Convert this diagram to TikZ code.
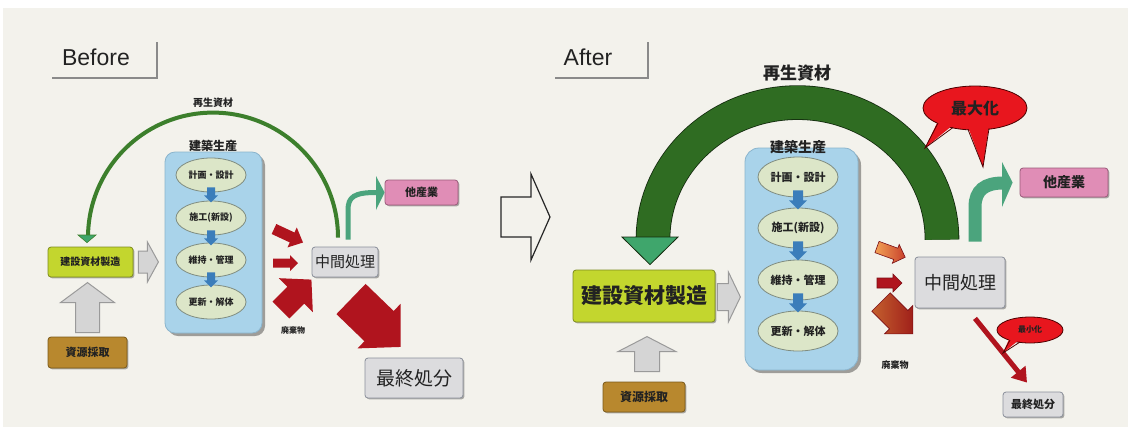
\documentclass[tikz,border=0pt]{standalone}
\usepackage{fontspec}
\setmainfont{Liberation Sans}
\newfontfamily\jp{Noto Sans CJK JP}
\usepackage{tikz}
\usetikzlibrary{calc,shapes.geometric,shadows,arrows.meta}
\definecolor{paper}{HTML}{F3F2EC}
\definecolor{ink}{HTML}{222222}
\definecolor{ygreen}{HTML}{C3D62E}
\definecolor{ygline}{HTML}{7E8C1E}
\definecolor{ochre}{HTML}{B8882E}
\definecolor{ochreline}{HTML}{7A5A1A}
\definecolor{pinkbox}{HTML}{E08DB6}
\definecolor{pinkline}{HTML}{9A5A7A}
\definecolor{graybox}{HTML}{DCDCDE}
\definecolor{grayline}{HTML}{8A8F9A}
\definecolor{bluebox}{HTML}{A9D3EA}
\definecolor{blueline}{HTML}{8AB4CC}
\definecolor{stagefill}{HTML}{DCE6C8}
\definecolor{stageline}{HTML}{7F8C80}
\definecolor{stagearrow}{HTML}{3B7DBA}
\definecolor{arrowgray}{HTML}{D5D5D5}
\definecolor{arrowgrayline}{HTML}{9A9A9A}
\definecolor{darkred}{HTML}{B0141E}
\definecolor{greenL}{HTML}{3C7F2C}
\definecolor{greenR}{HTML}{2F6C22}
\definecolor{greenhead}{HTML}{3FA66C}
\definecolor{tealarrow}{HTML}{4BA47D}
\definecolor{bubblered}{HTML}{E8161E}
\definecolor{orangeA}{HTML}{F2A255}
\definecolor{orangeB}{HTML}{C8402C}
\definecolor{brownA}{HTML}{C4602E}
\definecolor{brownB}{HTML}{A0201A}
\definecolor{tabgray}{HTML}{8A8A8A}

% block arrow: style, start, angle, length, head length, shaft half, head half
\newcommand{\blkarrow}[7]{%
	\path [#1, shift={(#2)}, rotate=#3] (0,{-#6}) -- ({#4-#5},{-#6}) -- ({#4-#5},{-#7}) -- (#4,0) -- ({#4-#5},#7) -- ({#4-#5},#6) -- (0,#6) -- cycle;}

\begin{document}
\begin{tikzpicture}[x=0.5pt, y=-0.5pt,
	jfont/.style={font=\jp\bfseries\fontsize{#1}{#1}\selectfont, text=ink, inner sep=0pt},
	jlight/.style={font=\jp\fontsize{#1}{#1}\selectfont, text=ink, inner sep=0pt},
	box/.style={draw=#1, rounded corners=1.5pt, inner sep=0pt, drop shadow={shadow xshift=0.7pt, shadow yshift=-0.7pt, fill=black, opacity=0.3}},
	holder/.style={draw=blueline, fill=bluebox, rounded corners=#1, drop shadow={shadow xshift=1.5pt, shadow yshift=-1.5pt, fill=black, opacity=0.35}},
	stage/.style={ellipse, draw=stageline, fill=stagefill, inner sep=0pt},
	tabline/.style={draw=tabgray, line width=1.3pt},
	grayarr/.style={fill=arrowgray, draw=arrowgrayline, line width=0.5pt},
	redarr/.style={fill=darkred},
	bluearr/.style={fill=stagearrow},
	bubble/.style={ellipse, fill=bubblered, draw=black!70!red, line width=0.4pt, inner sep=0pt}]
	\useasboundingbox (0,0) rectangle (1131,430);
	\fill [paper] (3,8) rectangle (1128,427);

	% Before
	\node [font=\fontsize{11.5}{12}\selectfont, text=ink] (before) at (96,57) {Before};
	\draw [tabline] (52,78) -- (157,78) -- (157,42);
	\node [jfont=5] (reuseL) at (213,103) {再生資材};
	\node [holder=5pt, minimum width=48.5pt, minimum height=90.5pt] (prodL) at (213.5,242.5) {};
	\node [jfont=6] (prodLabelL) at (213,146) {建築生産};
	\node [stage, minimum width=35pt, minimum height=17pt, jfont=4.5] (planL) at (211,175) {計画・設計};
	\node [stage, minimum width=35pt, minimum height=17pt, jfont=4.5] (buildL) at (211,218) {施工(新設)};
	\node [stage, minimum width=35pt, minimum height=17pt, jfont=4.5] (keepL) at (211,260) {維持・管理};
	\node [stage, minimum width=35pt, minimum height=17pt, jfont=4.5] (renewL) at (211,302) {更新・解体};
	\foreach \a in {planL,buildL,keepL}
		\blkarrow{bluearr}{$(\a.south)+(0,-5)$}{-90}{15}{7}{4}{7};
	\node [box=ygline, fill=ygreen, minimum width=42.5pt, minimum height=15pt, jfont=5] (mfgL) at (90.5,262) {建設資材製造};
	\node [box=ochreline, fill=ochre, minimum width=39.5pt, minimum height=15.5pt, jfont=5.5] (srcL) at (87.5,352.5) {資源採取};
	\node [box=grayline, fill=graybox, minimum width=33pt, minimum height=15pt, jlight=7.5] (midL) at (345,262) {中間処理};
	\node [box=pinkline, fill=pinkbox, minimum width=36.5pt, minimum height=12.5pt, jfont=5.5] (otherL) at (421.5,192.5) {他産業};
	\node [box=grayline, fill=graybox, minimum width=49pt, minimum height=20pt, jlight=9.5] (finalL) at (414,378) {最終処分};
	\node [jfont=4] (wasteL) at (293,330) {廃棄物};
	% recycled material loop
	\draw [greenL, line width=2pt] ($(midL.north)+(-7,-9)$) arc [start angle=0, end angle=-180, radius=125];
	\fill [greenhead, draw=greenL, line width=0.3pt] (78,235) -- (96,235) -- ($(mfgL.north)+(-3.5,-4)$) -- cycle;
	\draw [tealarrow, line width=2.5pt] ($(midL.north)+(3,-7)$) -- (348,210) .. controls (348,197) and (354,192.5) .. (376,192.5);
	\fill [tealarrow] (376,176) -- (otherL.west) -- (376,210) -- cycle;
	\blkarrow{grayarr}{$(mfgL.east)+(5,0)$}{0}{20}{11}{11}{20};
	\blkarrow{grayarr}{$(srcL.north)+(0,-4)$}{90}{50}{20}{12}{27};
	% waste
	\blkarrow{redarr}{274,229}{-25}{32}{12}{5.5}{11};
	\blkarrow{redarr}{273,263}{0}{25}{8}{4.5}{8};
	\blkarrow{redarr}{281,310}{45}{43}{22}{12}{24};
	\blkarrow{redarr}{351,299}{-44}{69}{30}{21}{31};

	% middle arrow
	\blkarrow{draw=black!85, line width=0.6pt, fill=paper}{501,217}{0}{49}{19}{20}{43};

	% After
	\node [font=\fontsize{11.5}{12}\selectfont, text=ink] (after) at (588,57) {After};
	\draw [tabline] (555,78) -- (648,78) -- (648,42);
	\node [jfont=8.5] (reuseR) at (797,73) {再生資材};
	\node [holder=7pt, minimum width=56.5pt, minimum height=111pt] (prodR) at (801.5,259) {};
	\node [jfont=7] (prodLabelR) at (798,147) {建築生産};
	\node [stage, minimum width=40pt, minimum height=20pt, jfont=5.5] (planR) at (798,177) {計画・設計};
	\node [stage, minimum width=40pt, minimum height=20pt, jfont=5.5] (buildR) at (798,228) {施工(新設)};
	\node [stage, minimum width=40pt, minimum height=20pt, jfont=5.5] (keepR) at (798,280) {維持・管理};
	\node [stage, minimum width=40pt, minimum height=20pt, jfont=5.5] (renewR) at (798,331) {更新・解体};
	\foreach \a in {planR,buildR,keepR}
		\blkarrow{bluearr}{$(\a.south)+(0,-7)$}{-90}{19}{9}{5}{9};
	\node [box=ygline, fill=ygreen, minimum width=71pt, minimum height=26pt, jfont=10.5] (mfgR) at (644,296) {建設資材製造};
	\node [box=ochreline, fill=ochre, minimum width=41pt, minimum height=15pt, jfont=6] (srcR) at (644,397) {資源採取};
	\node [box=grayline, fill=graybox, minimum width=45pt, minimum height=25.5pt, jlight=9] (midR) at (960,282.5) {中間処理};
	\node [box=pinkline, fill=pinkbox, minimum width=44pt, minimum height=14.5pt, jfont=7] (otherR) at (1064,182.5) {他産業};
	\node [box=grayline, fill=graybox, minimum width=30pt, minimum height=12.5pt, jfont=5.5] (finalR) at (1033,404.5) {最終処分};
	\node [jfont=4.5] (wasteR) at (895,365) {廃棄物};
	% recycled material loop
	\draw [black!60!greenR, line width=17.3pt] ($(midR.north)+(-18,-17)$) arc [start angle=0, end angle=-180, x radius=144.5, y radius=137];
	\draw [greenR, line width=16.5pt] ($(midR.north)+(-18,-17)$) arc [start angle=0, end angle=-180, x radius=144.5, y radius=137];
	\fill [greenhead, draw=black!60!greenR, line width=0.4pt] (622,237) -- (678,237) -- ($(mfgR.north)+(6,-5)$) -- cycle;
	\draw [tealarrow, line width=6.5pt] ($(midR.north)+(15,-15)$) -- (975,207) .. controls (975,190) and (985,183) .. (1003,183);
	\fill [tealarrow] (1002,162) -- ($(otherR.west)+(-7,0)$) -- (1002,207) -- cycle;
	\blkarrow{grayarr}{$(mfgR.east)+(2,1)$}{0}{23}{12}{13.5}{25};
	\blkarrow{grayarr}{$(srcR.north)+(3,-10)$}{90}{35}{15}{12.5}{29};
	% waste
	\blkarrow{left color=orangeA, right color=orangeB, draw=darkred!70!black, line width=0.3pt}{877,247}{-20}{30}{10}{6}{10};
	\blkarrow{fill=darkred, draw=darkred!70!black, line width=0.3pt}{877,283}{0}{25}{9}{5}{9};
	\blkarrow{left color=brownA, right color=brownB, draw=darkred!70!black, line width=0.3pt}{881,302}{-45}{45}{20}{13}{20};
	\draw [darkred, line width=2.5pt, -{Triangle[length=7pt, width=9pt]}] ($(midR.south)+(15,10)$) -- ($(finalR.north)+(-6,-9)$);
	% callouts
	\node [bubble, minimum width=52pt, minimum height=22pt, jfont=8] (maxR) at (975,108) {最大化};
	\fill [bubblered] (938,121) -- (925,148) -- (953,125) -- cycle;
	\fill [bubblered] (968,127) -- (983,167) -- (989,126) -- cycle;
	\draw [black!70!red, line width=0.4pt] (938,123) -- (925,148) -- (953,127.5);
	\draw [black!70!red, line width=0.4pt] (968,129.5) -- (983,167) -- (989,128.5);
	\node [bubble, minimum width=33pt, minimum height=13pt, jfont=4] (minR) at (1030,330) {最小化};
	\fill [bubblered] (1010,337) -- (1003,353) -- (1020,339) -- cycle;
	\draw [black!70!red, line width=0.4pt] (1010,340) -- (1003,353) -- (1020,342);
\end{tikzpicture}
\end{document}
